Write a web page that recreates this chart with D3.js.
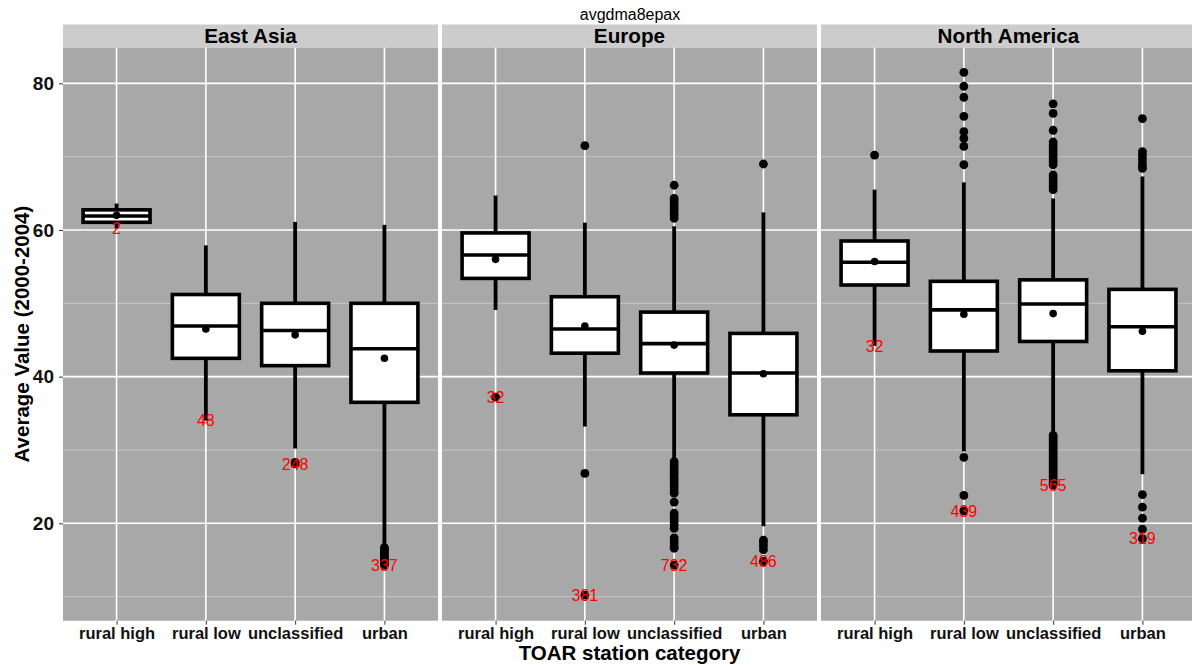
<!DOCTYPE html>
<html>
<head>
<meta charset="utf-8">
<script src="https://cdn.jsdelivr.net/npm/d3@7"></script>
<style>
  html, body { margin: 0; padding: 0; background: #fff; }
  svg { display: block; font-family: "Liberation Sans", Arial, Helvetica, sans-serif; }
</style>
</head>
<body>
<svg id="chart" width="1192" height="665"></svg>
<script>
// ---- data: avgdma8epax by region and TOAR station category ----
const chartTitle = "avgdma8epax";
const regions = ["East Asia", "Europe", "North America"];
const categories = ["rural high", "rural low", "unclassified", "urban"];
const yTicks = [20, 40, 60, 80];
const yMinorTicks = [10, 30, 50, 70];

// one row per region, one entry per category
const whiskerLow = [
  [60.2, 34.0, 30.2, 17.0],
  [49.1, 33.2, 28.6, 19.6],
  [44.2, 29.8, 32.3, 26.7]
];
const q1 = [
  [61.05, 42.5, 41.5, 36.5],
  [53.4, 43.2, 40.5, 34.8],
  [52.5, 43.5, 44.8, 40.8]
];
const medians = [
  [61.9, 46.9, 46.3, 43.8],
  [56.6, 46.5, 44.5, 40.5],
  [55.6, 49.1, 49.9, 46.8]
];
const q3 = [
  [62.75, 51.2, 50.0, 50.0],
  [59.6, 50.9, 48.8, 45.9],
  [58.5, 53.0, 53.2, 51.9]
];
const whiskerHigh = [
  [63.6, 57.9, 61.1, 60.7],
  [64.7, 61.0, 60.5, 62.4],
  [65.5, 66.5, 64.3, 67.3]
];
const means = [
  [62.0, 46.5, 45.7, 42.5],
  [56.0, 46.9, 44.3, 40.4],
  [55.7, 48.5, 48.6, 46.2]
];
const counts = [
  [2, 48, 248, 337],
  [32, 381, 732, 486],
  [32, 439, 565, 319]
];
const outliers = [
  [
    [],
    [],
    [28.3, 28.1],
    [16.7, 16.4, 16.1, 15.8, 15.5, 15.2, 14.9, 14.6, 14.3]
  ],
  [
    [37.2],
    [71.5, 26.8, 10.2],
    [66.1, 64.3, 64.0, 63.6, 63.2, 62.8, 62.4, 62.0, 61.6,
     28.4, 28.0, 27.6, 27.2, 26.8, 26.4, 26.0, 25.6, 25.2, 24.8, 24.4, 24.1,
     22.9, 21.4, 21.0, 20.6, 20.2, 19.8, 19.3, 18.0, 17.6, 17.2, 16.8, 16.6, 14.3],
    [69.0, 17.7, 17.3, 16.9, 16.4, 14.8]
  ],
  [
    [70.2],
    [81.5, 79.6, 78.1, 75.5, 73.4, 72.5, 71.4, 68.9, 29.0, 23.8, 21.7],
    [77.2, 75.9, 73.6, 72.0, 71.6, 71.2, 70.8, 70.4, 70.0, 69.6, 69.3, 68.9,
     67.5, 67.1, 66.7, 66.3, 65.9, 65.5,
     32.0, 31.7, 31.4, 31.1, 30.8, 30.5, 30.2, 29.9, 29.6, 29.3, 29.0, 28.7,
     28.4, 28.1, 27.8, 27.5, 27.2, 26.9, 26.6, 26.3, 26.0, 25.7, 25.4, 25.2],
    [75.2, 70.7, 70.2, 69.7, 69.2, 68.7, 68.4, 23.9, 22.2, 20.7, 19.2, 17.9]
  ]
];

// ---- layout ----
const svg = d3.select("#chart");
const panelLeft = 63, panelWidth = 375, panelGap = 4;
const stripTop = 24.5, panelTop = 47.4, panelBottom = 620.7;

const colors = {
  panel: "#A8A8A8",
  strip: "#CCCCCC",
  major: "#FFFFFF",
  minor: "#C6C6C6",
  label: "#FF0000",
  tick: "#333333"
};

const y = d3.scaleLinear().domain([6.72, 84.9]).range([panelBottom, panelTop]);

const panelX = d3.scaleBand()
  .domain(regions)
  .range([panelLeft, panelLeft + 3 * panelWidth + 2 * panelGap])
  .paddingInner(panelGap / (panelWidth + panelGap));

// title
svg.append("text")
  .attr("x", 630).attr("y", 20)
  .attr("text-anchor", "middle")
  .attr("font-size", 16)
  .attr("fill", "#000")
  .text(chartTitle);

regions.forEach((region, r) => {
  const x0 = panelX(region);
  const w = panelX.bandwidth();
  const x = d3.scalePoint().domain(categories).range([x0, x0 + w]).padding(0.6);
  const boxW = x.step() * 0.75;

  const g = svg.append("g");

  // panel background
  g.append("rect")
    .attr("x", x0).attr("y", panelTop)
    .attr("width", w).attr("height", panelBottom - panelTop)
    .attr("fill", colors.panel);

  // grid
  g.selectAll(".minor").data(yMinorTicks).join("line")
    .attr("x1", x0).attr("x2", x0 + w)
    .attr("y1", d => y(d)).attr("y2", d => y(d))
    .attr("stroke", colors.minor).attr("stroke-width", 1);
  g.selectAll(".majorY").data(yTicks).join("line")
    .attr("x1", x0).attr("x2", x0 + w)
    .attr("y1", d => y(d)).attr("y2", d => y(d))
    .attr("stroke", colors.major).attr("stroke-width", 1.6);
  g.selectAll(".majorX").data(categories).join("line")
    .attr("x1", d => x(d)).attr("x2", d => x(d))
    .attr("y1", panelTop).attr("y2", panelBottom)
    .attr("stroke", colors.major).attr("stroke-width", 1.6);

  // strip
  svg.append("rect")
    .attr("x", x0).attr("y", stripTop)
    .attr("width", w).attr("height", panelTop - stripTop)
    .attr("fill", colors.strip);
  svg.append("text")
    .attr("x", x0 + w / 2).attr("y", (stripTop + panelTop) / 2)
    .attr("dy", "0.36em")
    .attr("text-anchor", "middle")
    .attr("font-size", 20.7).attr("font-weight", "bold")
    .attr("fill", "#000")
    .text(region);

  // x axis
  const xAxis = d3.axisBottom(x).tickSize(4).tickPadding(3);
  const ax = svg.append("g")
    .attr("transform", `translate(0,${panelBottom})`)
    .call(xAxis);
  ax.select(".domain").remove();
  ax.selectAll(".tick line").attr("stroke", colors.tick).attr("stroke-width", 1);
  ax.selectAll(".tick text")
    .attr("font-size", 16.5).attr("font-weight", "bold")
    .attr("font-family", "Liberation Sans, Arial, sans-serif")
    .attr("fill", "#111");

  // boxes
  categories.forEach((cat, c) => {
    const cx = x(cat);
    const bg = g.append("g");
    bg.append("line")
      .attr("x1", cx).attr("x2", cx)
      .attr("y1", y(whiskerHigh[r][c])).attr("y2", y(q3[r][c]))
      .attr("stroke", "#000").attr("stroke-width", 3.8);
    bg.append("line")
      .attr("x1", cx).attr("x2", cx)
      .attr("y1", y(q1[r][c])).attr("y2", y(whiskerLow[r][c]))
      .attr("stroke", "#000").attr("stroke-width", 3.8);
    bg.append("rect")
      .attr("x", cx - boxW / 2).attr("y", y(q3[r][c]))
      .attr("width", boxW).attr("height", y(q1[r][c]) - y(q3[r][c]))
      .attr("fill", "#fff").attr("stroke", "#000").attr("stroke-width", 3.6);
    bg.append("line")
      .attr("x1", cx - boxW / 2).attr("x2", cx + boxW / 2)
      .attr("y1", y(medians[r][c])).attr("y2", y(medians[r][c]))
      .attr("stroke", "#000").attr("stroke-width", 3.6);

    bg.selectAll(".out").data(outliers[r][c]).join("circle")
      .attr("cx", cx).attr("cy", d => y(d)).attr("r", 4.4)
      .attr("fill", "#000");

    bg.append("circle")
      .attr("cx", cx).attr("cy", y(means[r][c])).attr("r", 3.8)
      .attr("fill", "#000");

    const lowest = d3.min([whiskerLow[r][c], ...outliers[r][c]]);
    bg.append("text")
      .attr("x", cx).attr("y", y(lowest))
      .attr("dy", "0.36em")
      .attr("text-anchor", "middle")
      .attr("font-size", 16)
      .attr("fill", colors.label)
      .text(counts[r][c]);
  });
});

// y axis (left of first panel)
const yAxis = d3.axisLeft(y).tickValues(yTicks).tickSize(4).tickPadding(5);
const ay = svg.append("g")
  .attr("transform", `translate(${panelLeft},0)`)
  .call(yAxis);
ay.select(".domain").remove();
ay.selectAll(".tick line").attr("stroke", colors.tick).attr("stroke-width", 1);
ay.selectAll(".tick text")
  .attr("font-size", 19).attr("font-weight", "bold")
  .attr("font-family", "Liberation Sans, Arial, sans-serif")
  .attr("fill", "#111");

// axis titles
svg.append("text")
  .attr("transform", `translate(22,${(panelTop + panelBottom) / 2}) rotate(-90)`)
  .attr("dy", "0.36em")
  .attr("text-anchor", "middle")
  .attr("font-size", 20.5).attr("font-weight", "bold")
  .attr("fill", "#000")
  .text("Average Value (2000-2004)");

svg.append("text")
  .attr("x", panelLeft + (3 * panelWidth + 2 * panelGap) / 2)
  .attr("y", 653)
  .attr("dy", "0.36em")
  .attr("text-anchor", "middle")
  .attr("font-size", 20.5).attr("font-weight", "bold")
  .attr("fill", "#000")
  .text("TOAR station category");
</script>
</body>
</html>
